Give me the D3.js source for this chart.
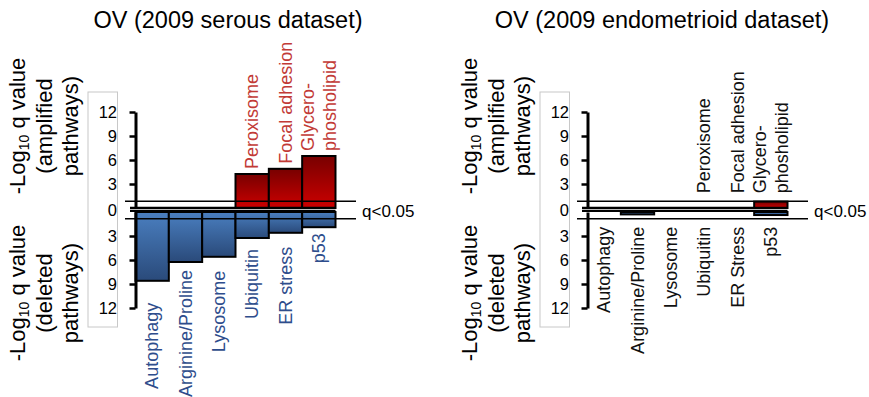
<!DOCTYPE html>
<html lang="en">
<head>
<meta charset="UTF-8">
<title>OV pathways</title>
<script src="https://d3js.org/d3.v7.min.js"></script>
<style>
  body { margin: 0; background: #fff; }
  text { font-family: Arial, "Liberation Sans", sans-serif; }
</style>
</head>
<body>
<svg width="869" height="397" id="mainsvg"></svg>
<script>
// data (-log10 q values)
const slots = [0, 1, 2, 3, 4, 5];
const serousDelLabels = ['Autophagy', 'Arginine/Proline', 'Lysosome', 'Ubiquitin', 'ER stress', 'p53'];
const endoDelLabels = ['Autophagy', 'Arginine/Proline', 'Lysosome', 'Ubiquitin', 'ER Stress', 'p53'];
const ampLabels = ['', '', '', 'Peroxisome', 'Focal adhesion', 'Glycero-|phosholipid'];
const serousAmp = [0, 0, 0, 4.25, 4.9, 6.5];
const serousDel = [8.6, 6.25, 5.6, 3.25, 2.6, 1.9];
const endoAmp = [0, 0, 0, 0, 0, 0.8];
const endoDel = [0, 0.3, 0, 0, 0, 0.38];
const yTicks = [3, 6, 9, 12];
const qLine = 0.85;

const svg = d3.select('#mainsvg');

// gradients
const defs = svg.append('defs');
function grad(id, c1, c2) {
    const lg = defs.append('linearGradient').attr('id', id)
        .attr('x1', 0).attr('y1', 0).attr('x2', 0).attr('y2', 1);
    lg.append('stop').attr('offset', '0%').attr('stop-color', c1);
    lg.append('stop').attr('offset', '100%').attr('stop-color', c2);
}
grad('redg', '#780000', '#cc0000');
grad('blueg', '#4a7fc0', '#2a4a7a');

const yUp = d3.scaleLinear().domain([0, 12]).range([208, 112]);
const yDown = d3.scaleLinear().domain([0, 12]).range([212, 308]);

const panels = [
    {title: 'OV (2009 serous dataset)', titleX: 228, dx: 0, amp: serousAmp, del: serousDel,
     delLabels: serousDelLabels, ampColor: '#c23a36', delColor: '#2e4d8c',
     delGaps: [22, 8, 14, 11, 14, 6], ampGap: 5},
    {title: 'OV (2009 endometrioid dataset)', titleX: 662, dx: 452, amp: endoAmp, del: endoDel,
     delLabels: endoDelLabels, ampColor: '#111', delColor: '#111',
     delGaps: [8, 8, 8, 8, 8, 8], ampGap: 8}
];

function yTitle(g, x0, cy, word) {
    const xs = [25, 52, 78];
    const t1 = g.append('text').attr('transform', `translate(${x0 + xs[0]},${cy}) rotate(-90)`)
        .attr('text-anchor', 'middle').attr('font-size', 22).attr('fill', '#000');
    t1.append('tspan').text('-Log');
    t1.append('tspan').text('10').attr('font-size', 14).attr('dy', 4);
    t1.append('tspan').text(' q value').attr('dy', -4);
    g.append('text').attr('transform', `translate(${x0 + xs[1]},${cy}) rotate(-90)`)
        .attr('text-anchor', 'middle').attr('font-size', 22).text('(' + word);
    g.append('text').attr('transform', `translate(${x0 + xs[2]},${cy}) rotate(-90)`)
        .attr('text-anchor', 'middle').attr('font-size', 22).text('pathways)');
}

panels.forEach(p => {
    const g = svg.append('g').attr('transform', `translate(${p.dx},0)`);
    const axisX = 135.5;
    const x = d3.scaleBand().domain(slots).range([axisX, axisX + 200]).padding(0);

    // title
    g.append('text').attr('x', p.titleX - p.dx).attr('y', 28)
        .attr('text-anchor', 'middle').attr('font-size', 23.5).text(p.title);

    yTitle(g, 0, 126, 'amplified');
    yTitle(g, 0, 293, 'deleted');

    // grey box around tick labels
    g.append('rect').attr('x', 88).attr('y', 92).attr('width', 29.5).attr('height', 235)
        .attr('fill', 'none').attr('stroke', '#c8c8c8').attr('stroke-width', 1);

    // bars
    g.selectAll('.amp').data(p.amp).join('rect').attr('class', 'amp')
        .attr('x', (d, i) => x(i)).attr('width', x.bandwidth())
        .attr('y', d => yUp(d)).attr('height', d => yUp(0) - yUp(d))
        .attr('fill', 'url(#redg)').attr('stroke', '#000').attr('stroke-width', 2)
        .attr('display', d => d > 0 ? null : 'none');
    g.selectAll('.del').data(p.del).join('rect').attr('class', 'del')
        .attr('x', (d, i) => x(i)).attr('width', x.bandwidth())
        .attr('y', yDown(0)).attr('height', d => yDown(d) - yDown(0))
        .attr('fill', 'url(#blueg)').attr('stroke', '#000').attr('stroke-width', 2)
        .attr('display', d => d > 0 ? null : 'none');

    // baselines
    g.append('line').attr('x1', 130).attr('x2', axisX + 200).attr('y1', yUp(0)).attr('y2', yUp(0))
        .attr('stroke', '#000').attr('stroke-width', 2.5);
    g.append('line').attr('x1', 130).attr('x2', axisX + 200).attr('y1', yDown(0) - 1).attr('y2', yDown(0) - 1)
        .attr('stroke', '#000').attr('stroke-width', 2);

    // q<0.05 lines
    [yUp(qLine), yDown(qLine)].forEach(yy => {
        g.append('line').attr('x1', 125).attr('x2', 356).attr('y1', yy).attr('y2', yy)
            .attr('stroke', '#000').attr('stroke-width', 1.6);
    });
    g.append('text').attr('x', 362).attr('y', 216.5).attr('font-size', 17).text('q<0.05');

    // axes
    [yUp, yDown].forEach(sc => {
        const ax = g.append('g').attr('transform', `translate(${axisX},0)`)
            .call(d3.axisLeft(sc).tickValues(yTicks).tickSize(6).tickSizeOuter(0).tickPadding(12.5));
        ax.select('.domain').attr('stroke-width', 3);
        ax.selectAll('.tick line').attr('stroke-width', 2.5);
        ax.selectAll('.tick text').attr('font-size', 16.5).attr('font-family', 'Arial, "Liberation Sans", sans-serif')
            .attr('fill', '#000');
    });
    g.append('text').attr('x', 117).attr('y', 216).attr('text-anchor', 'end')
        .attr('font-size', 16.5).text('0');

    // amplified labels
    p.amp.forEach((v, i) => {
        const lab = ampLabels[i];
        if (!lab) return;
        const base = Math.min(yUp(v), yUp(qLine)) - p.ampGap;
        const parts = lab.split('|');
        const cx = x(i) + x.bandwidth() / 2;
        parts.forEach((s, k) => {
            const off = parts.length > 1 ? (k === 0 ? -11 : 11) : 0;
            g.append('text').attr('transform', `translate(${cx + off},${base}) rotate(-90)`)
                .attr('dy', '0.35em').attr('font-size', 18).attr('fill', p.ampColor).text(s);
        });
    });

    // deleted labels
    p.del.forEach((v, i) => {
        const top = Math.max(yDown(v), yDown(qLine)) + p.delGaps[i];
        const cx = x(i) + x.bandwidth() / 2;
        g.append('text').attr('transform', `translate(${cx},${top}) rotate(-90)`)
            .attr('text-anchor', 'end').attr('dy', '0.35em').attr('font-size', 18)
            .attr('fill', p.delColor).text(p.delLabels[i]);
    });
});
</script>
</body>
</html>
